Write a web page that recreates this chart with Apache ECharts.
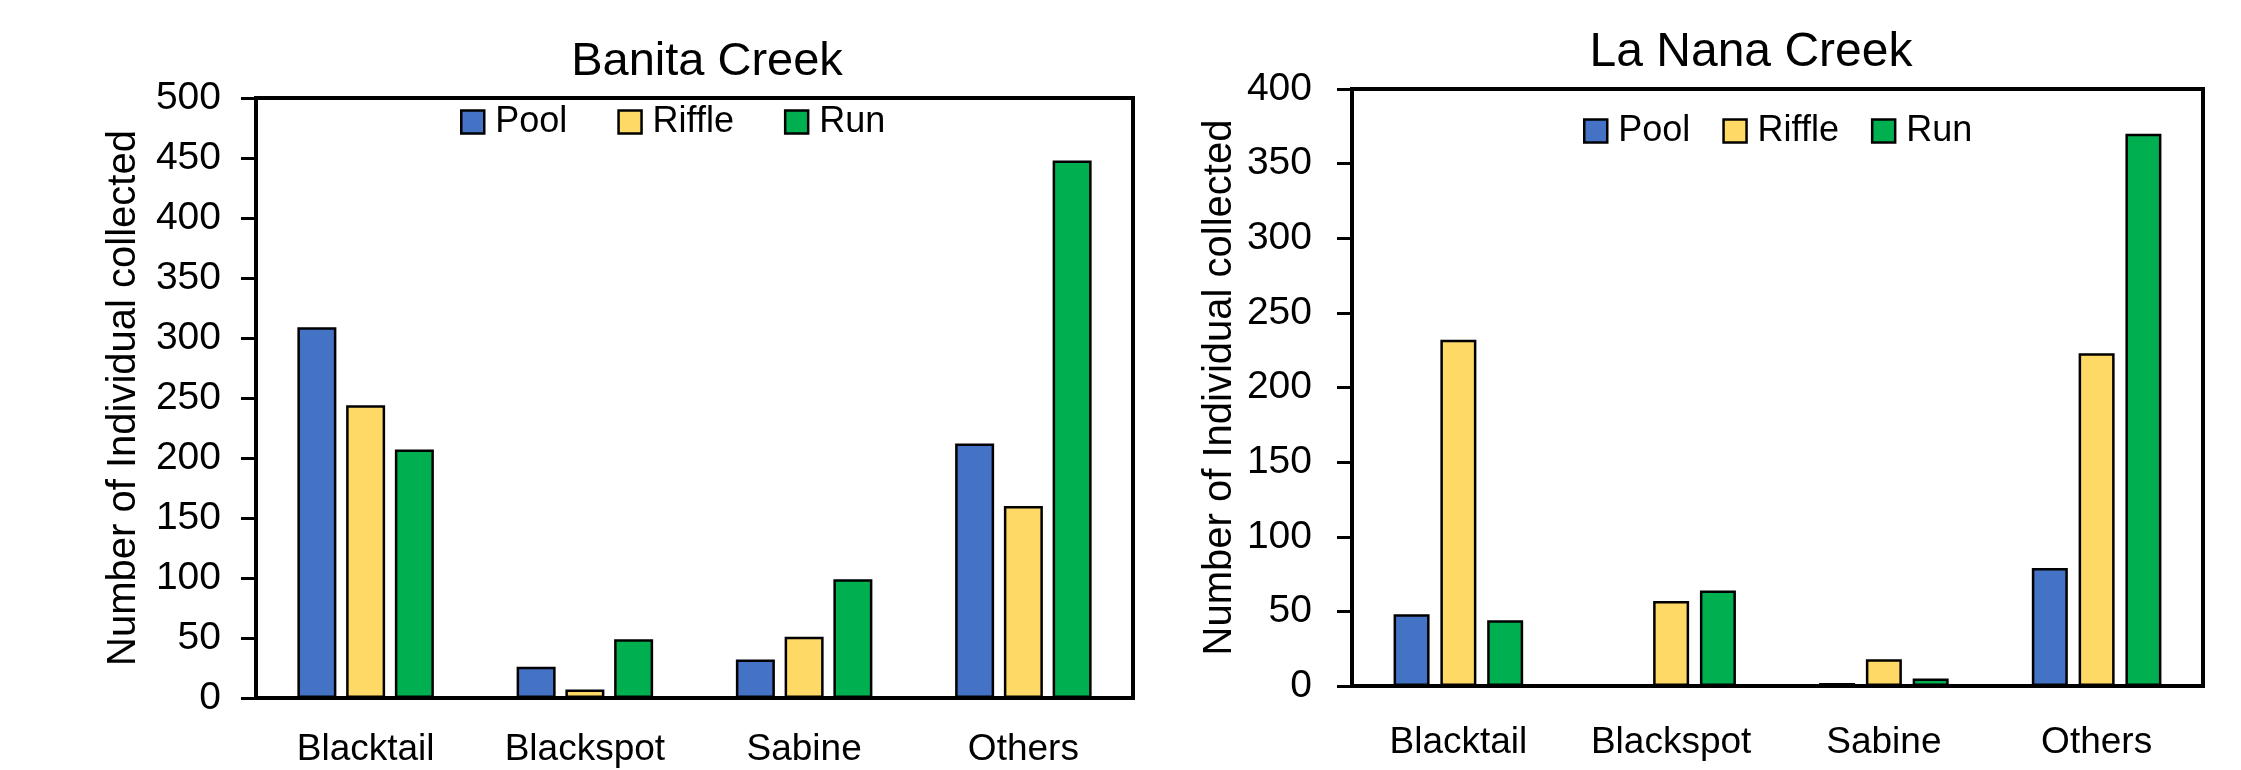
<!DOCTYPE html>
<html>
<head>
<meta charset="utf-8">
<script src="https://cdn.jsdelivr.net/npm/echarts@6/dist/echarts.min.js"></script>
<style>
  html, body { margin: 0; padding: 0; background: #fff; }
  #main { width: 2241px; height: 770px; }
</style>
</head>
<body>
<div id="main"></div>
<script>
// fish counts per habitat
var categories = ['Blacktail', 'Blackspot', 'Sabine', 'Others'];
var habitats = ['Pool', 'Riffle', 'Run'];
var banitaPool = [309, 26, 32, 212];
var banitaRiffle = [244, 7, 51, 160];
var banitaRun = [207, 49, 99, 448];
var nanaPool = [48, 1, 2, 79];
var nanaRiffle = [232, 57, 18, 223];
var nanaRun = [44, 64, 5, 370];
var colors = ['#4472C4', '#FFD966', '#00B050'];

var font = 'Liberation Sans';

function xAxisOf(idx, margin) {
    return {
        type: 'category',
        gridIndex: idx,
        data: categories,
        axisLine: { lineStyle: { color: '#000', width: 4 } },
        axisTick: { length: 15, lineStyle: { color: '#000', width: 3 } },
        axisLabel: { color: '#000', fontSize: 37, fontFamily: font, margin: margin }
    };
}
function yAxisOf(idx, max, margin) {
    return {
        type: 'value',
        gridIndex: idx,
        min: 0,
        max: max,
        interval: 50,
        name: 'Number of Individual collected',
        nameLocation: 'middle',
        nameGap: 112,
        nameTextStyle: { color: '#000', fontSize: 40, fontFamily: font },
        axisLine: { show: true, lineStyle: { color: '#000', width: 4 } },
        axisTick: { show: true, length: 15, lineStyle: { color: '#000', width: 3 } },
        axisLabel: { color: '#000', fontSize: 39, fontFamily: font, margin: margin },
        splitLine: { show: false }
    };
}
function barOf(name, idx, data, color, w, gap) {
    return {
        name: name,
        type: 'bar',
        xAxisIndex: idx,
        yAxisIndex: idx,
        data: data,
        barWidth: w,
        barGap: gap,
        itemStyle: { color: color, borderColor: '#000', borderWidth: 2.5 }
    };
}
function legendOf(left, top, gap) {
    return {
        data: habitats,
        left: left,
        top: top,
        padding: 0,
        icon: 'rect',
        itemWidth: 23,
        itemHeight: 23,
        itemGap: gap,
        itemStyle: { borderColor: '#000', borderWidth: 2.5 },
        textStyle: { color: '#000', fontSize: 36, fontFamily: font, padding: [0, 0, 0, 6] }
    };
}

var myChart = echarts.init(document.getElementById('main'));
myChart.setOption({
    animation: false,
    backgroundColor: '#fff',
    color: colors,
    title: [
        {
            text: 'Banita Creek',
            left: 702,
            top: 34,
            textAlign: 'center',
            textStyle: { color: '#000', fontSize: 47, fontWeight: 'normal', fontFamily: font }
        },
        {
            text: 'La Nana Creek',
            left: 1746,
            top: 24,
            textAlign: 'center',
            textStyle: { color: '#000', fontSize: 48, fontWeight: 'normal', fontFamily: font }
        }
    ],
    legend: [
        legendOf(460, 104, 50),
        legendOf(1583, 113, 32)
    ],
    grid: [
        { left: 256, right: 1108, top: 98, height: 600, show: true, borderColor: '#000', borderWidth: 4 },
        { left: 1352, right: 38, top: 89, height: 597, show: true, borderColor: '#000', borderWidth: 4 }
    ],
    xAxis: [xAxisOf(0, 33), xAxisOf(1, 38)],
    yAxis: [yAxisOf(0, 500, 35), yAxisOf(1, 400, 40)],
    series: [
        barOf('Pool', 0, banitaPool, colors[0], 39, '25%'),
        barOf('Riffle', 0, banitaRiffle, colors[1], 39, '25%'),
        barOf('Run', 0, banitaRun, colors[2], 39, '25%'),
        barOf('Pool', 1, nanaPool, colors[0], 36, '30%'),
        barOf('Riffle', 1, nanaRiffle, colors[1], 36, '30%'),
        barOf('Run', 1, nanaRun, colors[2], 36, '30%')
    ]
});
</script>
</body>
</html>
